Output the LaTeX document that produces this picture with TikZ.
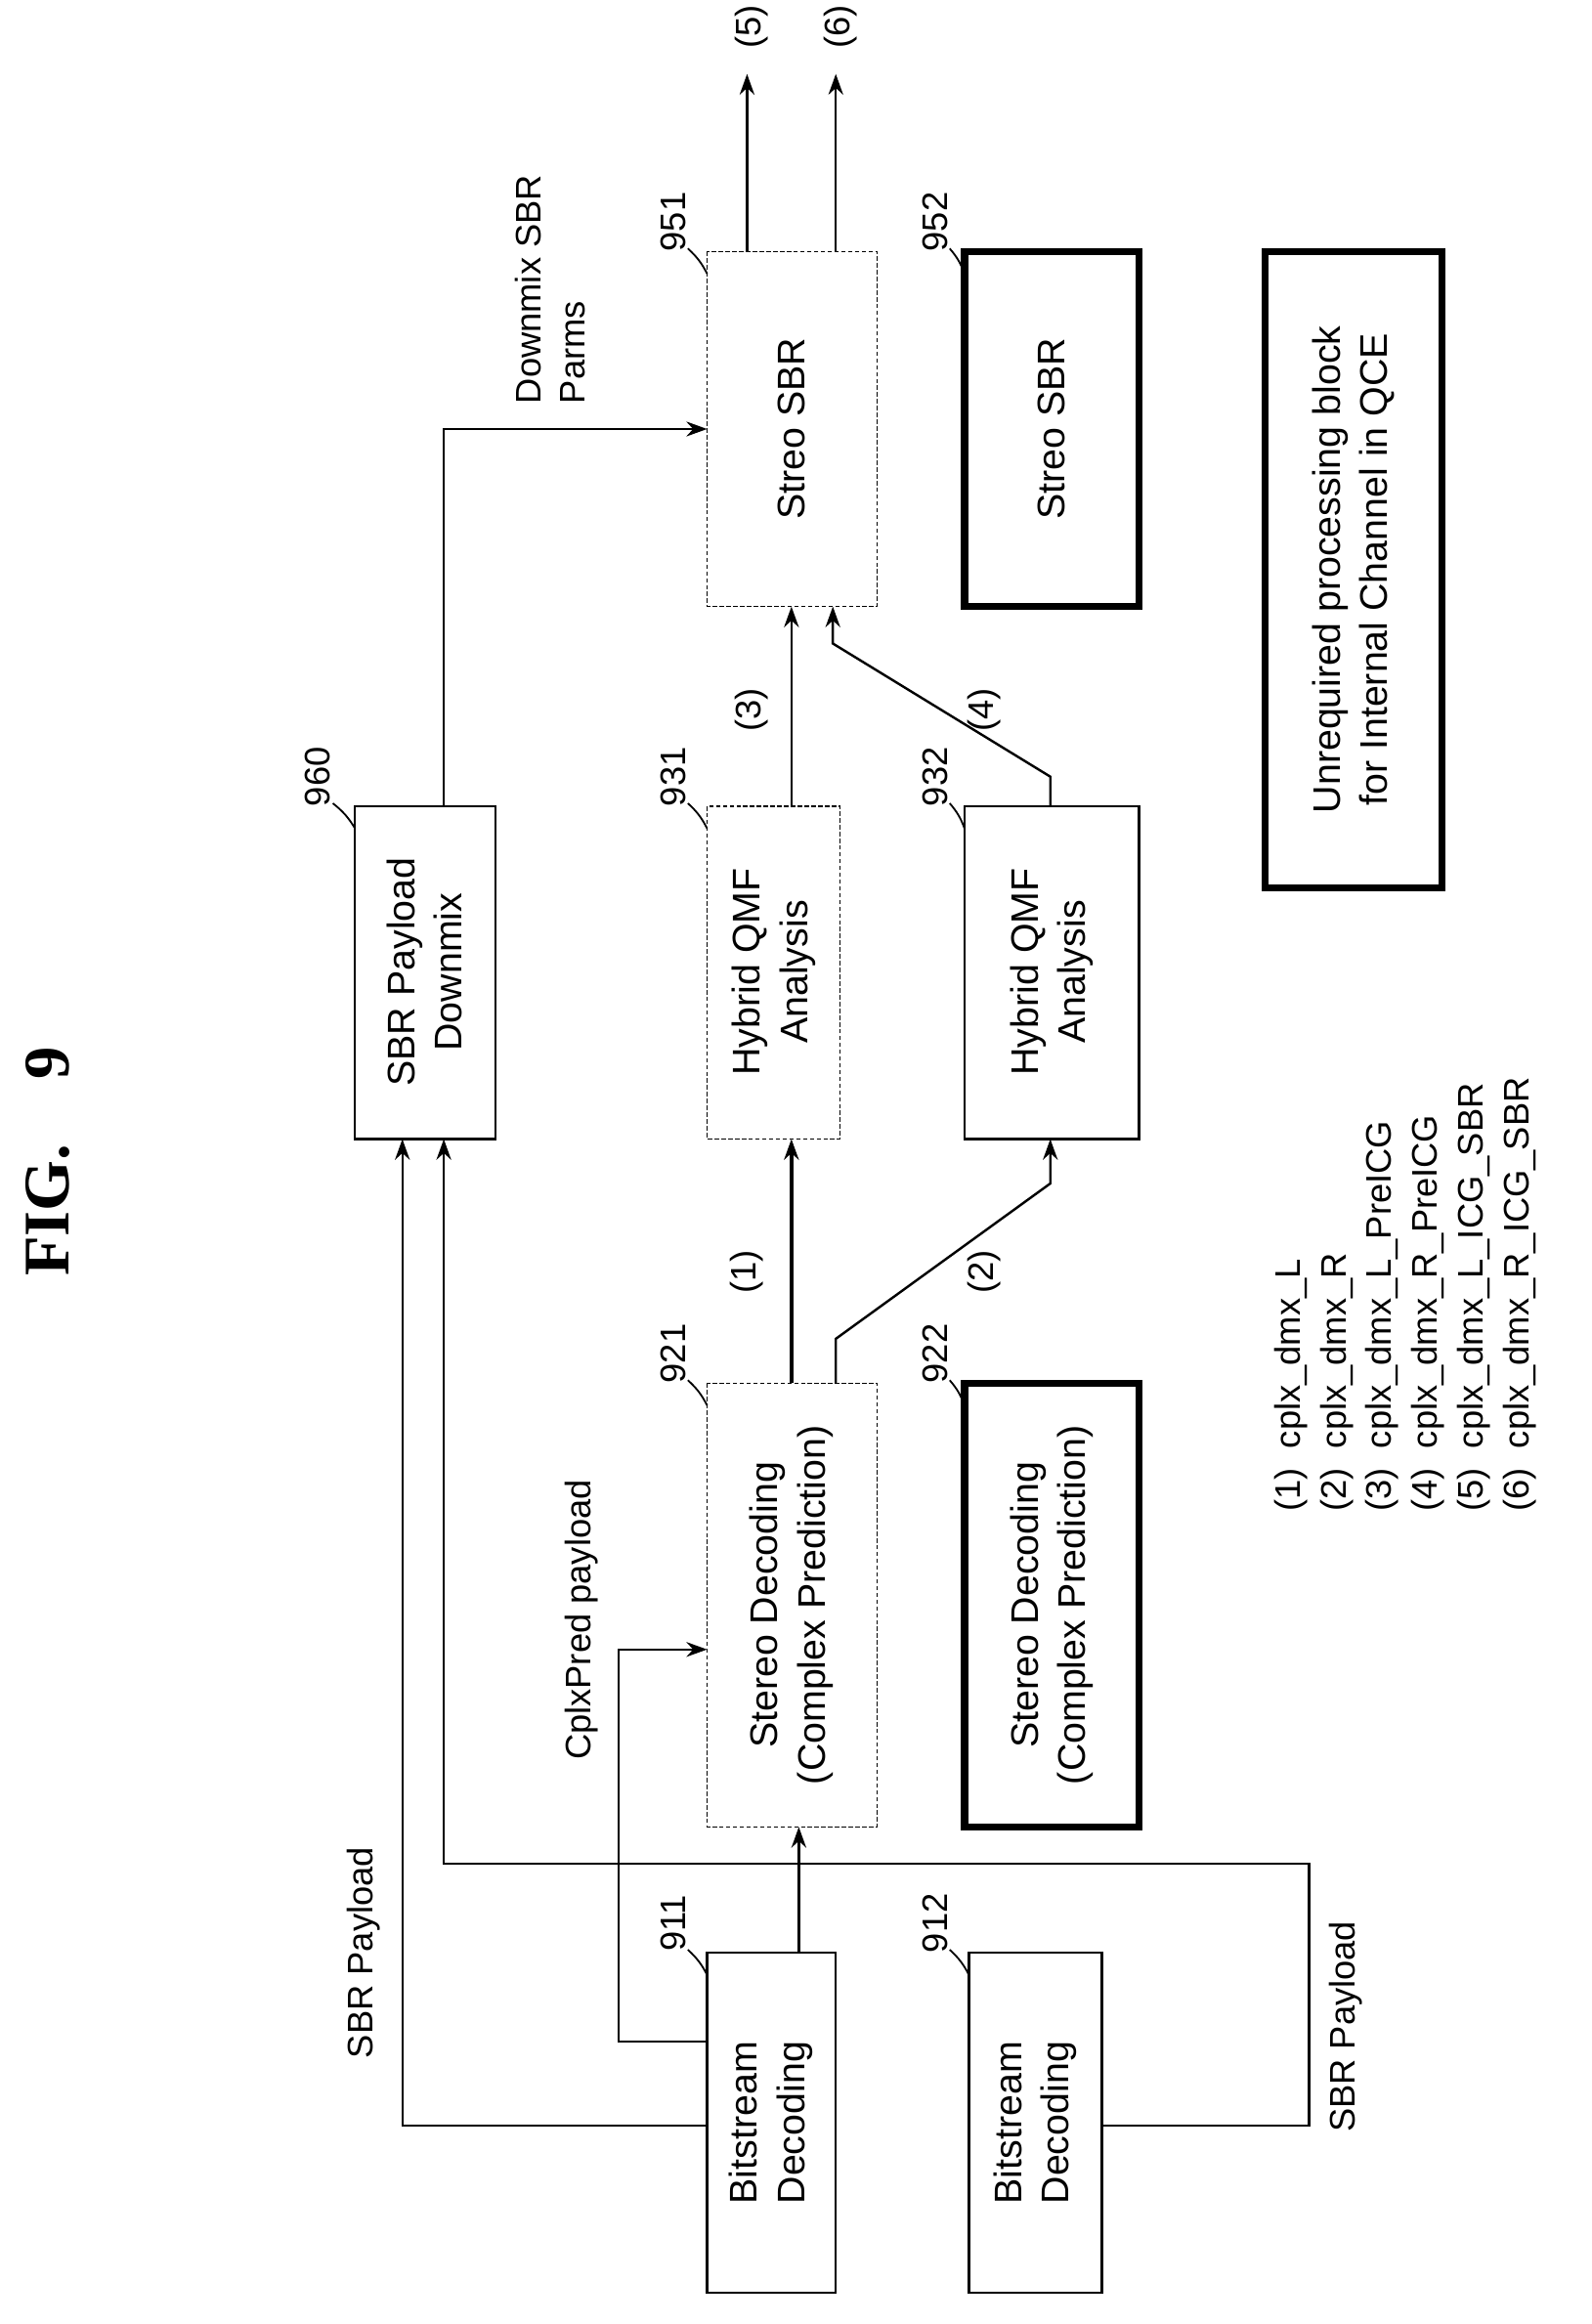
\documentclass[tikz,border=0pt]{standalone}
\usepackage{fontspec}
\setmainfont{Liberation Sans}
\newfontfamily\serifx{Liberation Serif}
\usetikzlibrary{arrows.meta}
\begin{document}
\begin{tikzpicture}[x=0.5pt,y=-0.5pt,
 box/.style={draw,line width=0.8pt,inner sep=0pt},
 dbox/.style={draw,line width=0.4pt,dash pattern=on 1.5pt off 0.8pt},
 thick box/.style={draw,line width=2.4pt,inner sep=0pt},
 txt/.style={rotate=90,align=center,font=\fontsize{13}{16}\selectfont},
 lab/.style={rotate=90,font=\fontsize{12}{14}\selectfont},
 arr/.style={-{Stealth[length=7pt,width=5pt]},line width=0.8pt},
 ln/.style={line width=0.6pt}]
\useasboundingbox (0,0) rectangle (1076,1571);
\node[rotate=90,font=\serifx\bfseries\fontsize{22}{26}\selectfont] (title) at (32,785) {FIG.\quad 9};
% boxes
\draw[box] (478,1320) rectangle (565,1550); \node[txt] (b911) at (521,1435) {Bitstream\\Decoding};
\draw[box] (655,1320) rectangle (745,1550); \node[txt] (b912) at (700,1435) {Bitstream\\Decoding};
\draw[dbox] (478,935) rectangle (593,1235); \node[txt] (b921) at (535,1085) {Stereo Decoding\\(Complex Prediction)};
\draw[thick box] (652,935) rectangle (770,1235); \node[txt] (b922) at (711,1085) {Stereo Decoding\\(Complex Prediction)};
\draw[dbox] (478,545) rectangle (568,770); \node[txt] (b931) at (523,657) {Hybrid QMF\\Analysis};
\draw[box] (652,545) rectangle (770,770); \node[txt] (b932) at (711,657) {Hybrid QMF\\Analysis};
\draw[box] (240,545) rectangle (335,770); \node[txt] (b960) at (287,657) {SBR Payload\\Downmix};
\draw[dbox] (478,170) rectangle (593,410); \node[txt] (b951) at (535,290) {Streo SBR};
\draw[thick box] (652,170) rectangle (770,410); \node[txt] (b952) at (711,290) {Streo SBR};
\draw[thick box] (855,170) rectangle (975,600); \node[txt] (leg) at (915,385) {Unrequired processing block\\for Internal Channel in QCE};
% ref numbers
\node[lab] (r911) at (455,1300) {911}; \draw[ln] (465,1318) to[bend left=10] (478,1335);
\node[lab] (r912) at (632,1300) {912}; \draw[ln] (642,1318) to[bend left=10] (655,1335);
\node[lab] (r921) at (455,915) {921}; \draw[ln] (465,933) to[bend left=10] (478,950);
\node[lab] (r922) at (632,915) {922}; \draw[ln] (642,933) to[bend left=10] (652,950);
\node[lab] (r931) at (455,525) {931}; \draw[ln] (465,543) to[bend left=10] (478,560);
\node[lab] (r932) at (632,525) {932}; \draw[ln] (642,543) to[bend left=10] (652,560);
\node[lab] (r960) at (215,525) {960}; \draw[ln] (225,543) to[bend left=10] (240,560);
\node[lab] (r951) at (455,150) {951}; \draw[ln] (465,168) to[bend left=10] (478,185);
\node[lab] (r952) at (632,150) {952}; \draw[ln] (642,168) to[bend left=10] (652,185);
% connectors
\coordinate (p1) at (272,1437); \coordinate (p2) at (272,770);
\draw[arr] (478,1437) -- (p1) -- (p2);
\node[lab] (sbr1) at (246,1320) {SBR Payload};
\draw[arr] (745,1437) -- (885,1437) -- (885,1260) -- (300,1260) -- (300,770);
\node[lab] (sbr2) at (910,1370) {SBR Payload};
\draw[arr] (478,1380) -- (418,1380) -- (418,1115) -- (478,1115);
\node[lab] (cp) at (393,1095) {CplxPred payload};
\draw[arr] (540,1320) -- (540,1235);
\draw[arr,line width=1.4pt] (535,935) -- (535,770); \node[lab] (l1) at (505,860) {(1)};
\draw[arr] (565,935) -- (565,905) -- (710,800) -- (710,770); \node[lab] (l2) at (665,860) {(2)};
\draw[arr] (535,545) -- (535,410); \node[lab] (l3) at (508,480) {(3)};
\draw[arr] (710,545) -- (710,525) -- (563,435) -- (563,410); \node[lab] (l4) at (665,480) {(4)};
\draw[arr] (300,545) -- (300,290) -- (478,290);
\node[txt,anchor=west,font=\fontsize{12}{15}\selectfont,align=left] (dm) at (372,280) {Downmix SBR\\Parms};
\draw[arr] (505,170) -- (505,50); \node[lab] (l5) at (508,18) {(5)};
\draw[arr] (565,170) -- (565,50); \node[lab] (l6) at (568,18) {(6)};
% legend
\node[rotate=90,align=left,anchor=center,font=\fontsize{12}{15.5}\selectfont] (list) at (950,875) {(1)\ \ cplx\_dmx\_L\\(2)\ \ cplx\_dmx\_R\\(3)\ \ cplx\_dmx\_L\_PreICG\\(4)\ \ cplx\_dmx\_R\_PreICG\\(5)\ \ cplx\_dmx\_L\_ICG\_SBR\\(6)\ \ cplx\_dmx\_R\_ICG\_SBR};
\end{tikzpicture}
\end{document}
